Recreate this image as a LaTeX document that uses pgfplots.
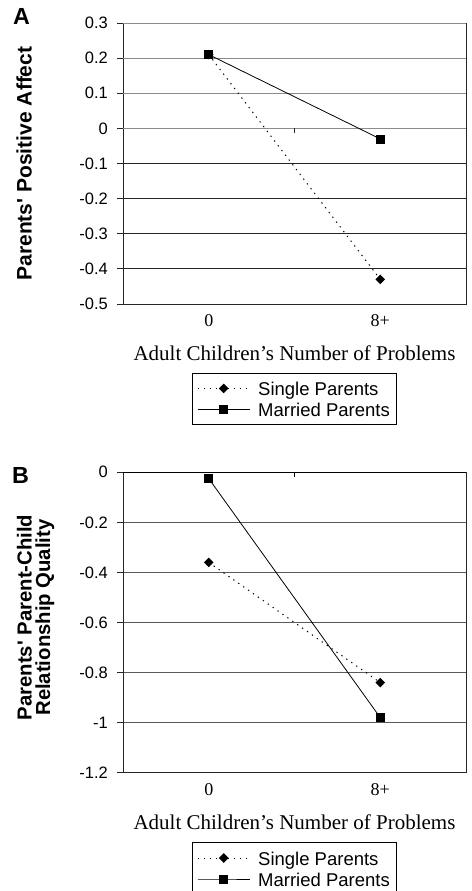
\documentclass[border=0pt]{standalone}
\usepackage{pgfplots}
\pgfplotsset{compat=1.18}
\usepackage{fontspec}
\setmainfont{Liberation Serif}
\newfontfamily\arial{Liberation Sans}
\pgfplotsset{
  single/.style={black, line width=1pt, dash pattern=on 1.3pt off 4.7pt, mark=square*, mark size=2.9pt, mark options={rotate=45, solid}},
  married/.style={black, line width=0.8pt, solid, mark=square*, mark size=4pt, mark options={solid}},
  common/.style={
    scale only axis, width=343pt, xmin=-0.5, xmax=1.5,
    xtick={0,1}, xticklabels={0,8+},
    xtick style={draw=none},
    tick align=outside, major tick length=6pt,
    ytick pos=left, xtick pos=bottom,
    /pgf/number format/assume math mode=true,
    axis line style={black!85, line width=0.9pt},
    ytick style={black!85, line width=0.9pt},
    yticklabel style={font=\arial\fontsize{16.5}{19}\selectfont, inner sep=0pt, xshift=-9pt},
    xticklabel style={font=\fontsize{18}{21}\selectfont, inner sep=0pt, anchor=north, yshift=-4.3pt},
    xlabel={Adult Children’s Number of Problems},
    xlabel style={font=\fontsize{21}{24}\selectfont, inner sep=0pt, at={(axis description cs:0.5,0)}, anchor=north, yshift=-41.5pt},
    legend style={draw=black, line width=0.8pt, font=\arial\fontsize{18.5}{21}\selectfont, inner xsep=5pt, inner ysep=4.8pt, row sep=0pt, column sep=6pt, nodes={inner xsep=2pt, inner ysep=1pt, text height=17.1pt, text depth=1.9pt}},
    legend cell align=left,
    legend image code/.code={\draw[mark repeat=2,mark phase=2,##1] plot coordinates {(0pt,0pt) (26pt,0pt) (52pt,0pt)};},
  }
}
\begin{document}
\begin{tikzpicture}[x=1pt,y=1pt]
\useasboundingbox (0,0) rectangle (471,891);
\node[font=\arial\bfseries\fontsize{23.3}{26}\selectfont, anchor=base west, inner sep=0pt] at (13,866) {A};
\node[font=\arial\bfseries\fontsize{23.3}{26}\selectfont, anchor=base west, inner sep=0pt] at (12,407.7) {B};
\begin{axis}[common, at={(123pt,587pt)}, anchor=south west, height=281pt,
  ymin=-0.5, ymax=0.3,
  ytick={-0.5,-0.4,-0.3,-0.2,-0.1}, yticklabels={-0.5,-0.4,-0.3,-0.2,-0.1},
  extra y ticks={0,0.1,0.2,0.3}, extra y tick labels={0,0.1,0.2,0.3},
  ymajorgrids, grid style={black!85, line width=0.8pt},
  extra y tick style={grid style={black!45, line width=0.9pt}},
  ylabel={Parents' Positive Affect},
  ylabel style={font=\arial\bfseries\fontsize{21}{24}\selectfont, at={(axis description cs:-0.2662,0.5)}, anchor=base},
  legend style={at={(0.5,-0.2445)}, anchor=north},
]
\addplot[single] coordinates {(0,0.21) (1,-0.43)};
\addlegendentry{Single Parents}
\addplot[married] coordinates {(0,0.21) (1,-0.03)};
\addlegendentry{Married Parents}
\draw[black!85, line width=0.9pt] (axis cs:0.5,0) -- ++(0pt,-5pt);
\end{axis}
\begin{axis}[common, at={(123pt,118.3pt)}, anchor=south west, height=300.4pt,
  ymin=-1.2, ymax=0,
  ytick={-1.2,-1,-0.8,-0.6,-0.4,-0.2,0}, yticklabels={-1.2,-1,-0.8,-0.6,-0.4,-0.2,0},
  ymajorgrids, grid style={black!65, line width=0.9pt},
  ylabel={Parents' Parent-Child\\Relationship Quality},
  ylabel style={font=\arial\bfseries\fontsize{20.3}{18.5}\selectfont, align=center, inner sep=0pt, anchor=center, at={(axis description cs:-0.2545,0.5166)}},
  legend style={at={(0.5,-0.2317)}, anchor=north},
]
\addplot[single] coordinates {(0,-0.36) (1,-0.84)};
\addlegendentry{Single Parents}
\addplot[married] coordinates {(0,-0.025) (1,-0.98)};
\addlegendentry{Married Parents}
\draw[black, line width=1pt] (axis cs:-0.5,0) -- (axis cs:1.5,0);
\draw[black, line width=0.9pt] (axis cs:0.5,0) -- ++(0pt,-5pt);
\end{axis}
\end{tikzpicture}
\end{document}
